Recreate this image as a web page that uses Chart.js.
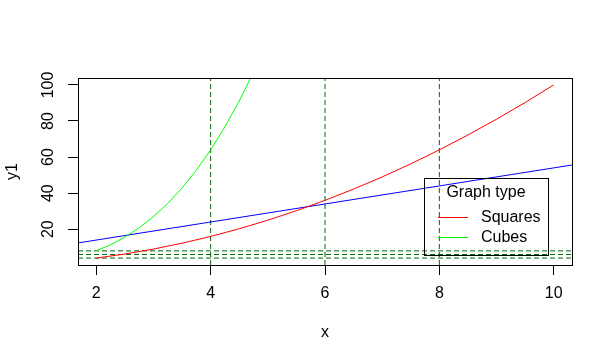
<!DOCTYPE html>
<html>
<head>
<meta charset="utf-8">
<title>Graph type</title>
<script src="https://cdn.jsdelivr.net/npm/chart.js@4.4.1/dist/chart.umd.min.js"></script>
<style>
    body { margin: 0; background: #ffffff; }
    #wrap { width: 613px; height: 363px; }
</style>
</head>
<body>
<div id="wrap"><canvas id="chart" width="613" height="363"></canvas></div>
<script>
// axis limits (R adds 4% on each side)
const xMin = 1.68, xMax = 10.32;
const yMin = 0.16, yMax = 103.84;
const xTicks = [2, 4, 6, 8, 10];
const yTicks = [20, 40, 60, 80, 100];

// Squares (red)
const xSquares = [2, 2.5, 3, 3.5, 4, 4.5, 5, 5.5, 6, 6.5, 7, 7.5, 8, 8.5, 9, 9.5, 10];
const ySquares = [4, 6.25, 9, 12.25, 16, 20.25, 25, 30.25, 36, 42.25, 49, 56.25, 64, 72.25, 81, 90.25, 100];

// Cubes (green), leaves the top of the plot
const xCubes = [2, 2.25, 2.5, 2.75, 3, 3.25, 3.5, 3.75, 4, 4.25, 4.5, 4.75];
const yCubes = [8, 11.4, 15.6, 20.8, 27, 34.3, 42.9, 52.7, 64, 76.8, 91.1, 107.2];

// straight blue line across the plot
const xBlue = [1.68, 10.32];
const yBlue = [12.4, 55.6];

// dashed reference lines
const vLines = [4, 6, 8];
const hLines = [4, 6, 8];

const legendTitle = 'Graph type';

const FONT = "'Liberation Sans', Arial, sans-serif";
Chart.defaults.font.family = FONT;
Chart.defaults.font.size = 16;
Chart.defaults.color = '#000000';

function toPoints(xs, ys) {
    return xs.map((x, i) => ({ x: x, y: ys[i] }));
}

function lineSet(label, data, color, dash) {
    return {
        label: label,
        data: data,
        borderColor: color,
        borderWidth: 1,
        borderDash: dash || [],
        pointRadius: 0,
        showLine: true,
        fill: false,
        tension: 0
    };
}

const datasets = [
    lineSet('Squares', toPoints(xSquares, ySquares), '#ff0000'),
    lineSet('Cubes', toPoints(xCubes, yCubes), '#00ff00'),
    lineSet('', toPoints(xBlue, yBlue), '#0000ff')
];
vLines.forEach(v => {
    datasets.push(lineSet('', [{ x: v, y: yMin }, { x: v, y: yMax }], '#006400', [5, 3]));
});
hLines.forEach(h => {
    datasets.push(lineSet('', [{ x: xMin, y: h }, { x: xMax, y: h }], '#006400', [5, 3]));
});

// box, rotated y labels and the legend, drawn R style
const rStyle = {
    id: 'rStyle',
    afterDraw(chart) {
        const ctx = chart.ctx;
        const area = chart.chartArea;
        const yScale = chart.scales.y;
        ctx.save();
        ctx.strokeStyle = '#000000';
        ctx.lineWidth = 1;
        ctx.setLineDash([]);
        ctx.strokeRect(area.left + 0.5, area.top + 0.5, area.right - area.left, area.bottom - area.top);

        ctx.fillStyle = '#000000';
        ctx.font = '16px ' + FONT;
        ctx.textAlign = 'center';
        ctx.textBaseline = 'middle';
        yTicks.forEach(t => {
            ctx.save();
            ctx.translate(49, yScale.getPixelForValue(t));
            ctx.rotate(-Math.PI / 2);
            ctx.fillText(String(t), 0, 0);
            ctx.restore();
        });

        // legend
        const lx = 424, ly = 178, lw = 124, lh = 77;
        ctx.strokeRect(lx + 0.5, ly + 0.5, lw, lh);
        ctx.fillText(legendTitle, lx + 62, ly + 15);
        const items = chart.data.datasets.slice(0, 2);
        items.forEach((ds, i) => {
            const yy = ly + 39 + i * 20 + 0.5;
            ctx.strokeStyle = ds.borderColor;
            ctx.beginPath();
            ctx.moveTo(lx + 14, yy);
            ctx.lineTo(lx + 44, yy);
            ctx.stroke();
            ctx.textAlign = 'left';
            ctx.fillText(ds.label, lx + 57, yy);
        });
        ctx.restore();
    }
};

new Chart(document.getElementById('chart'), {
    type: 'scatter',
    data: { datasets: datasets },
    options: {
        responsive: false,
        animation: false,
        devicePixelRatio: 1,
        layout: { padding: { top: 78, right: 41, bottom: 0, left: 0 } },
        plugins: {
            legend: { display: false },
            tooltip: { enabled: false }
        },
        scales: {
            x: {
                type: 'linear',
                min: xMin,
                max: xMax,
                afterBuildTicks: scale => { scale.ticks = xTicks.map(v => ({ value: v })); },
                afterFit: scale => { scale.height = 98; },
                grid: { drawOnChartArea: false, drawTicks: true, tickLength: 10, color: '#000000' },
                border: { display: false },
                ticks: { padding: 9, maxRotation: 0, font: { size: 16 }, callback: v => String(v) },
                title: { display: true, text: 'x', font: { size: 16 }, padding: { top: 0, bottom: 21 } }
            },
            y: {
                type: 'linear',
                min: yMin,
                max: yMax,
                afterBuildTicks: scale => { scale.ticks = yTicks.map(v => ({ value: v })); },
                afterFit: scale => { scale.width = 78; },
                grid: { drawOnChartArea: false, drawTicks: true, tickLength: 10, color: '#000000' },
                border: { display: false },
                ticks: { display: false },
                title: { display: true, text: 'y1', font: { size: 16 }, padding: { top: 3, bottom: 0 } }
            }
        }
    },
    plugins: [rStyle]
});
</script>
</body>
</html>
